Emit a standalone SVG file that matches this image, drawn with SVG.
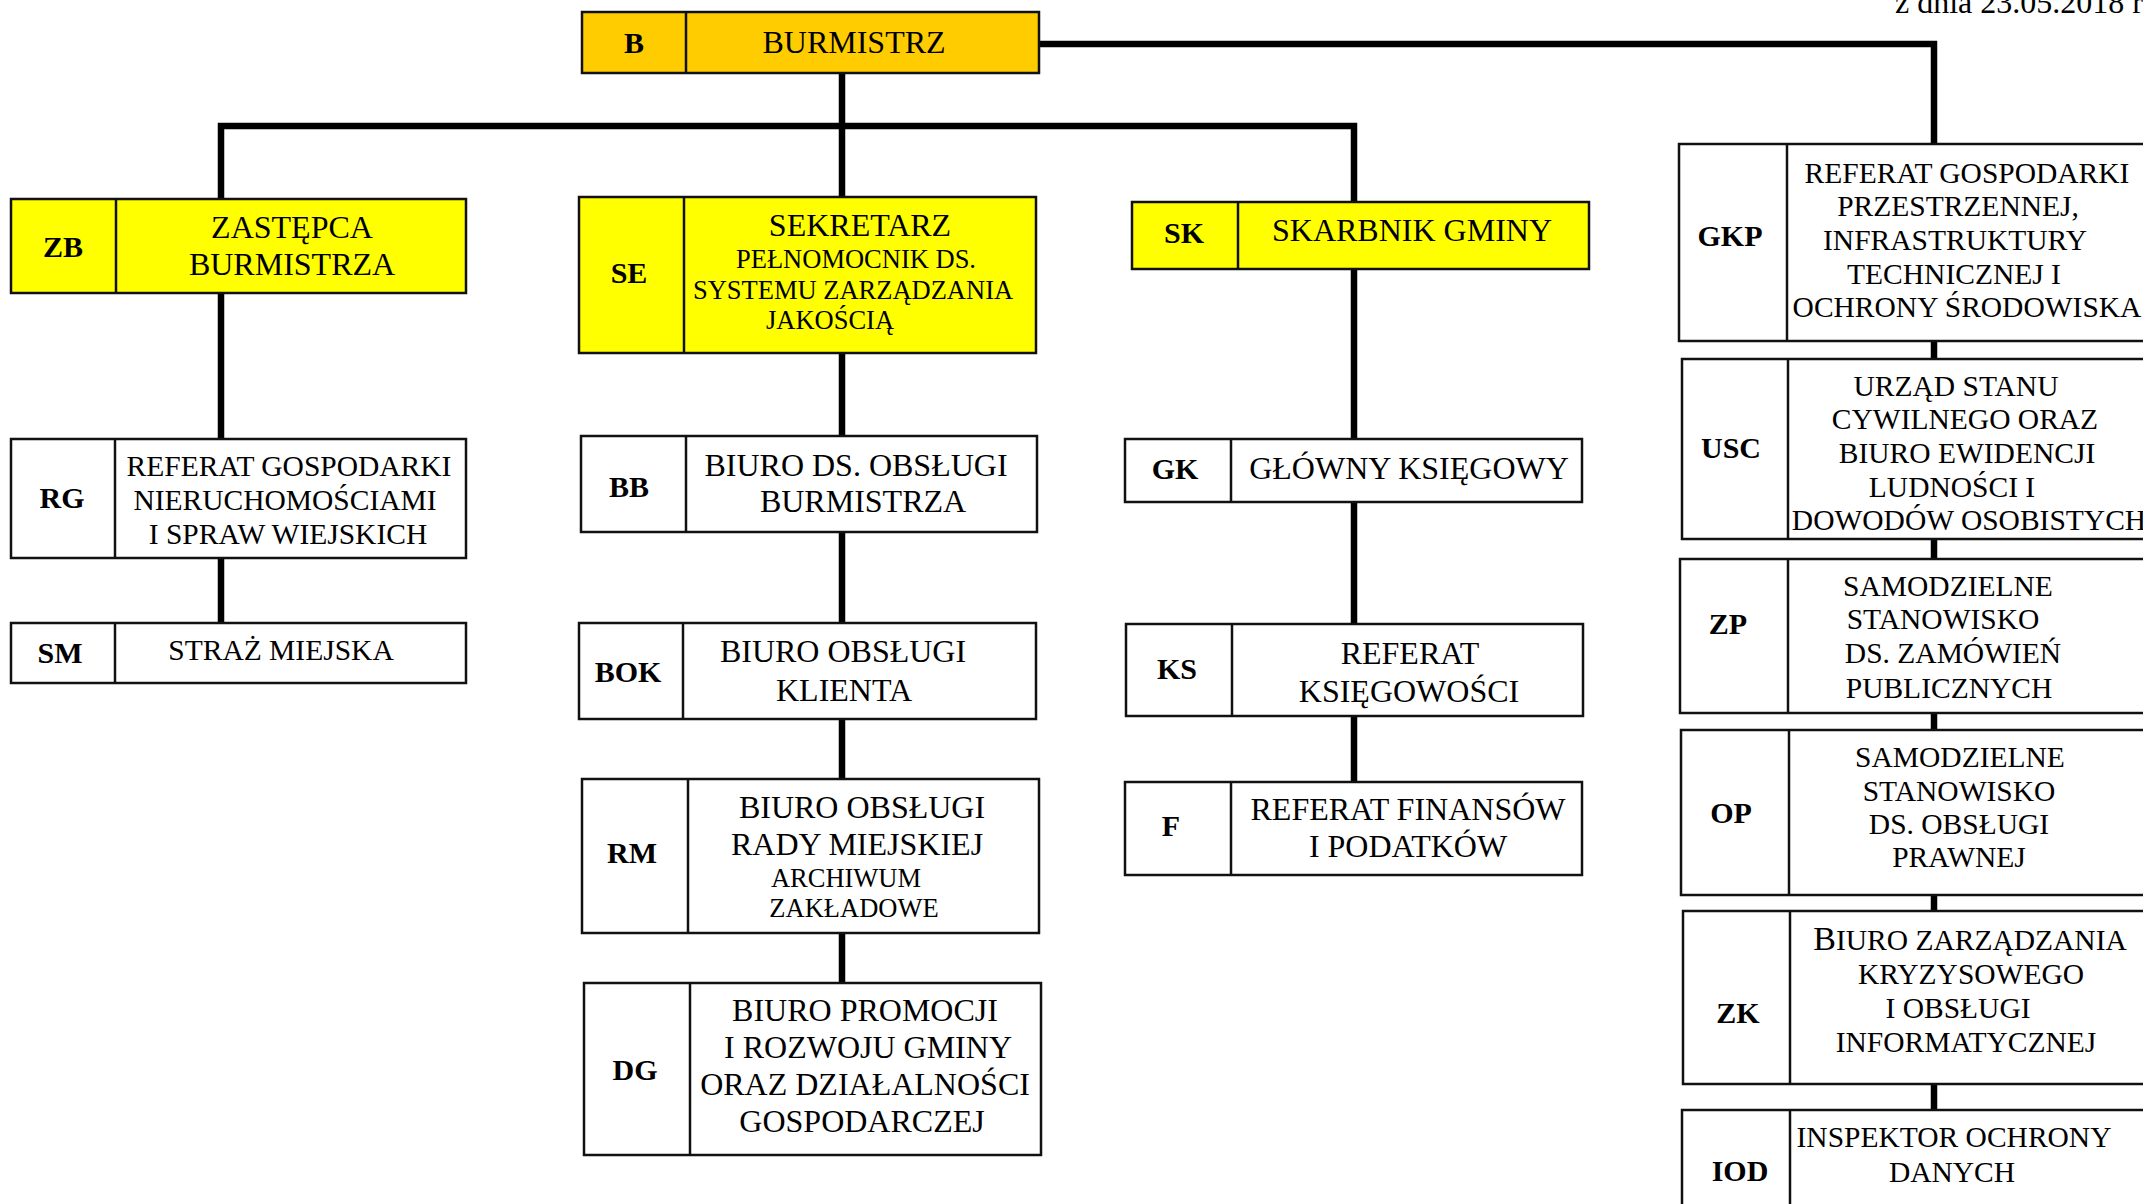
<svg xmlns="http://www.w3.org/2000/svg" width="2143" height="1204" viewBox="0 0 2143 1204">
<style>
  .box { stroke: #111; stroke-width: 2.5; fill: #fff; }
  .yel { fill: #FFFF00; }
  .org { fill: #FFCC00; }
  .div { stroke: #111; stroke-width: 2.5; }
  .conn { stroke: #000; stroke-width: 6.5; fill: none; stroke-linejoin: miter; }
  text { font-family: "Liberation Serif", "Times New Roman", serif; fill: #000; text-anchor: middle; }
  .lbl { font-weight: bold; font-size: 30px; }
  .t32 { font-size: 32px; }
  .t29 { font-size: 29.5px; }
  .t26 { font-size: 26.5px; }
</style>
<rect x="0" y="0" width="2143" height="1204" fill="#fff"/>
<text x="1895" y="13" style="text-anchor:start;font-size:32px">z dnia 23.05.2018 r.</text>

<g id="connectors">
  <path class="conn" d="M842 72 V197"/>
  <path class="conn" d="M221 199 V126 H1354 V202"/>
  <path class="conn" d="M1039 44 H1934 V144"/>
  <path class="conn" d="M221 293 V439 M221 558 V623"/>
  <path class="conn" d="M842 353 V436 M842 532 V623 M842 719 V779 M842 933 V983"/>
  <path class="conn" d="M1354 269 V439 M1354 502 V624 M1354 716 V782"/>
  <path class="conn" d="M1934 341 V359 M1934 539 V559 M1934 713 V730 M1934 895 V911 M1934 1084 V1110"/>
</g>

<g id="B">
  <rect class="box org" x="582" y="12" width="457" height="61"/>
  <line class="div" x1="686" y1="12" x2="686" y2="73"/>
  <text class="lbl" x="634" y="53">B</text>
  <text class="t32" x="854" y="53">BURMISTRZ</text>
</g>

<g id="ZB">
  <rect class="box yel" x="11" y="199" width="455" height="94"/>
  <line class="div" x1="116" y1="199" x2="116" y2="293"/>
  <text class="lbl" x="63" y="257">ZB</text>
  <text class="t32" x="292" y="238">ZASTĘPCA</text>
  <text class="t32" x="292" y="275">BURMISTRZA</text>
</g>

<g id="RG">
  <rect class="box" x="11" y="439" width="455" height="119"/>
  <line class="div" x1="115" y1="439" x2="115" y2="558"/>
  <text class="lbl" x="62" y="508">RG</text>
  <text class="t29" x="289" y="476">REFERAT GOSPODARKI</text>
  <text class="t29" x="285" y="510">NIERUCHOMOŚCIAMI</text>
  <text class="t29" x="288" y="544">I SPRAW WIEJSKICH</text>
</g>

<g id="SM">
  <rect class="box" x="11" y="623" width="455" height="60"/>
  <line class="div" x1="115" y1="623" x2="115" y2="683"/>
  <text class="lbl" x="60" y="663">SM</text>
  <text class="t29" x="281" y="660">STRAŻ MIEJSKA</text>
</g>

<g id="SE">
  <rect class="box yel" x="579" y="197" width="457" height="156"/>
  <line class="div" x1="684" y1="197" x2="684" y2="353"/>
  <text class="lbl" x="629" y="283">SE</text>
  <text class="t32" x="860" y="236">SEKRETARZ</text>
  <text class="t26" x="856" y="268">PEŁNOMOCNIK DS.</text>
  <text class="t26" x="853" y="299">SYSTEMU ZARZĄDZANIA</text>
  <text class="t26" x="830" y="329">JAKOŚCIĄ</text>
</g>

<g id="BB">
  <rect class="box" x="581" y="436" width="456" height="96"/>
  <line class="div" x1="686" y1="436" x2="686" y2="532"/>
  <text class="lbl" x="629" y="497">BB</text>
  <text class="t32" x="856" y="476">BIURO DS. OBSŁUGI</text>
  <text class="t32" x="863" y="512">BURMISTRZA</text>
</g>

<g id="BOK">
  <rect class="box" x="579" y="623" width="457" height="96"/>
  <line class="div" x1="683" y1="623" x2="683" y2="719"/>
  <text class="lbl" x="628" y="682">BOK</text>
  <text class="t32" x="843" y="662">BIURO OBSŁUGI</text>
  <text class="t32" x="844" y="701">KLIENTA</text>
</g>

<g id="RM">
  <rect class="box" x="582" y="779" width="457" height="154"/>
  <line class="div" x1="688" y1="779" x2="688" y2="933"/>
  <text class="lbl" x="632" y="863">RM</text>
  <text class="t32" x="862" y="818">BIURO OBSŁUGI</text>
  <text class="t32" x="857" y="855">RADY MIEJSKIEJ</text>
  <text class="t26" x="846" y="887">ARCHIWUM</text>
  <text class="t26" x="854" y="917">ZAKŁADOWE</text>
</g>

<g id="DG">
  <rect class="box" x="584" y="983" width="457" height="172"/>
  <line class="div" x1="690" y1="983" x2="690" y2="1155"/>
  <text class="lbl" x="635" y="1080">DG</text>
  <text class="t32" x="865" y="1021">BIURO PROMOCJI</text>
  <text class="t32" x="868" y="1058">I ROZWOJU GMINY</text>
  <text class="t32" x="865" y="1095">ORAZ DZIAŁALNOŚCI</text>
  <text class="t32" x="862" y="1132">GOSPODARCZEJ</text>
</g>

<g id="SK">
  <rect class="box yel" x="1132" y="202" width="457" height="67"/>
  <line class="div" x1="1238" y1="202" x2="1238" y2="269"/>
  <text class="lbl" x="1184" y="243">SK</text>
  <text class="t32" x="1412" y="241">SKARBNIK GMINY</text>
</g>

<g id="GK">
  <rect class="box" x="1125" y="439" width="457" height="63"/>
  <line class="div" x1="1231" y1="439" x2="1231" y2="502"/>
  <text class="lbl" x="1175" y="479">GK</text>
  <text class="t32" x="1409" y="479">GŁÓWNY KSIĘGOWY</text>
</g>

<g id="KS">
  <rect class="box" x="1126" y="624" width="457" height="92"/>
  <line class="div" x1="1232" y1="624" x2="1232" y2="716"/>
  <text class="lbl" x="1177" y="679">KS</text>
  <text class="t32" x="1410" y="664">REFERAT</text>
  <text class="t32" x="1409" y="702">KSIĘGOWOŚCI</text>
</g>

<g id="F">
  <rect class="box" x="1125" y="782" width="457" height="93"/>
  <line class="div" x1="1231" y1="782" x2="1231" y2="875"/>
  <text class="lbl" x="1171" y="836">F</text>
  <text class="t32" x="1408" y="820">REFERAT FINANSÓW</text>
  <text class="t32" x="1408" y="857">I PODATKÓW</text>
</g>

<g id="GKP">
  <rect class="box" x="1679" y="144" width="480" height="197"/>
  <line class="div" x1="1787" y1="144" x2="1787" y2="341"/>
  <text class="lbl" x="1730" y="246">GKP</text>
  <text class="t29" x="1967" y="183">REFERAT GOSPODARKI</text>
  <text class="t29" x="1958" y="216">PRZESTRZENNEJ,</text>
  <text class="t29" x="1955" y="250">INFRASTRUKTURY</text>
  <text class="t29" x="1954" y="284">TECHNICZNEJ I</text>
  <text class="t29" x="1967" y="317">OCHRONY ŚRODOWISKA</text>
</g>

<g id="USC">
  <rect class="box" x="1682" y="359" width="480" height="180"/>
  <line class="div" x1="1788" y1="359" x2="1788" y2="539"/>
  <text class="lbl" x="1731" y="458">USC</text>
  <text class="t29" x="1956" y="396">URZĄD STANU</text>
  <text class="t29" x="1965" y="429">CYWILNEGO ORAZ</text>
  <text class="t29" x="1967" y="463">BIURO EWIDENCJI</text>
  <text class="t29" x="1952" y="497">LUDNOŚCI I</text>
  <text class="t29" x="1969" y="530">DOWODÓW OSOBISTYCH</text>
</g>

<g id="ZP">
  <rect class="box" x="1680" y="559" width="480" height="154"/>
  <line class="div" x1="1788" y1="559" x2="1788" y2="713"/>
  <text class="lbl" x="1728" y="634">ZP</text>
  <text class="t29" x="1948" y="596">SAMODZIELNE</text>
  <text class="t29" x="1943" y="629">STANOWISKO</text>
  <text class="t29" x="1953" y="663">DS. ZAMÓWIEŃ</text>
  <text class="t29" x="1949" y="698">PUBLICZNYCH</text>
</g>

<g id="OP">
  <rect class="box" x="1681" y="730" width="480" height="165"/>
  <line class="div" x1="1789" y1="730" x2="1789" y2="895"/>
  <text class="lbl" x="1731" y="823">OP</text>
  <text class="t29" x="1960" y="767">SAMODZIELNE</text>
  <text class="t29" x="1959" y="801">STANOWISKO</text>
  <text class="t29" x="1959" y="834">DS. OBSŁUGI</text>
  <text class="t29" x="1959" y="867">PRAWNEJ</text>
</g>

<g id="ZK">
  <rect class="box" x="1683" y="911" width="480" height="173"/>
  <line class="div" x1="1790" y1="911" x2="1790" y2="1084"/>
  <text class="lbl" x="1738" y="1023">ZK</text>
  <text class="t29" x="1970" y="950"><tspan style="font-size:34px">B</tspan>IURO ZARZĄDZANIA</text>
  <text class="t29" x="1971" y="984">KRYZYSOWEGO</text>
  <text class="t29" x="1958" y="1018">I OBSŁUGI</text>
  <text class="t29" x="1966" y="1052">INFORMATYCZNEJ</text>
</g>

<g id="IOD">
  <rect class="box" x="1682" y="1110" width="480" height="110"/>
  <line class="div" x1="1790" y1="1110" x2="1790" y2="1220"/>
  <text class="lbl" x="1740" y="1181">IOD</text>
  <text class="t29" x="1954" y="1147">INSPEKTOR OCHRONY</text>
  <text class="t29" x="1952" y="1182">DANYCH</text>
</g>
</svg>
